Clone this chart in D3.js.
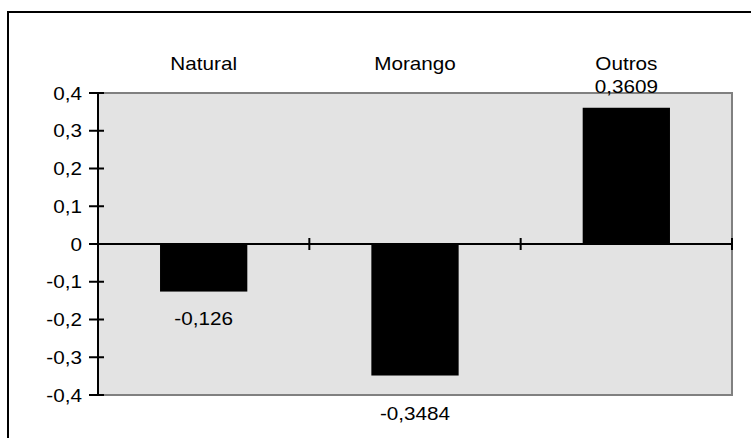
<!DOCTYPE html>
<html><head><meta charset="utf-8">
<script src="https://cdn.jsdelivr.net/npm/d3@7"></script>
<style>html,body{margin:0;padding:0;background:#fff;overflow:hidden}</style>
</head><body><svg id="c" width="751" height="438"></svg>
<script>
const categories = ["Natural", "Morango", "Outros"];
const values = [-0.126, -0.3484, 0.3609];
const valueLabels = ["-0,126", "-0,3484", "0,3609"];
const yTicks = [-0.4, -0.3, -0.2, -0.1, 0, 0.1, 0.2, 0.3, 0.4];
const yTickLabels = ["-0,4", "-0,3", "-0,2", "-0,1", "0", "0,1", "0,2", "0,3", "0,4"];

const svg = d3.select("#c");
const font = "'Liberation Sans', Arial, sans-serif";
const fs = 18, sx = 1.15;
const L = 98, R = 732, T = 93, B = 395;

// outer border
svg.append("rect").attr("x", 8).attr("y", 12).attr("width", 760).attr("height", 460)
  .attr("fill", "#fff").attr("stroke", "#000").attr("stroke-width", 2);

const x = d3.scaleBand().domain(categories).range([L, R]).paddingInner(0).paddingOuter(0);
const y = d3.scaleLinear().domain([-0.4, 0.4]).range([B, T]);
const bw = x.bandwidth() * 0.413;

// plot area
svg.append("rect").attr("x", L).attr("y", T).attr("width", R - L).attr("height", B - T)
  .attr("fill", "#e3e3e3").attr("stroke", "#808080").attr("stroke-width", 2);

// bars
svg.selectAll(".bar").data(values).join("rect")
  .attr("x", (d, i) => x(categories[i]) + (x.bandwidth() - bw) / 2)
  .attr("width", bw)
  .attr("y", d => Math.min(y(d), y(0)))
  .attr("height", d => Math.abs(y(d) - y(0)))
  .attr("fill", "#000");

// zero line
svg.append("line").attr("x1", L).attr("x2", R).attr("y1", y(0)).attr("y2", y(0))
  .attr("stroke", "#000").attr("stroke-width", 2);

// category tick marks on zero line
const bounds = categories.map(c => x(c) + x.bandwidth());
svg.selectAll(".ct").data(bounds).join("line")
  .attr("x1", d => d).attr("x2", d => d)
  .attr("y1", y(0) - 6).attr("y2", y(0) + 6)
  .attr("stroke", "#000").attr("stroke-width", 2);

// y axis
svg.append("line").attr("x1", L).attr("x2", L).attr("y1", T - 1).attr("y2", B + 1)
  .attr("stroke", "#000").attr("stroke-width", 2);
svg.selectAll(".yt").data(yTicks).join("line")
  .attr("x1", L - 9).attr("x2", L + 6)
  .attr("y1", d => y(d)).attr("y2", d => y(d))
  .attr("stroke", "#000").attr("stroke-width", 2);

function txt(tx, ty, s, anchor) {
  svg.append("text")
    .attr("transform", `translate(${tx},${ty}) scale(${sx},1)`)
    .attr("text-anchor", anchor)
    .attr("font-family", font).attr("font-size", fs).attr("fill", "#000")
    .text(s);
}

yTicks.forEach((t, i) => txt(L - 16, y(t) + 6.5, yTickLabels[i], "end"));

// category labels at top
categories.forEach(c => txt(x(c) + x.bandwidth() / 2, 70, c, "middle"));

// value labels
values.forEach((v, i) => {
  const cx = x(categories[i]) + x.bandwidth() / 2;
  let ly;
  if (v >= 0) ly = y(v) - 15;
  else {
    ly = y(v) + 33;
    if (ly > B - 5) ly = B + 25;
  }
  txt(cx, ly, valueLabels[i], "middle");
});
</script></body></html>
